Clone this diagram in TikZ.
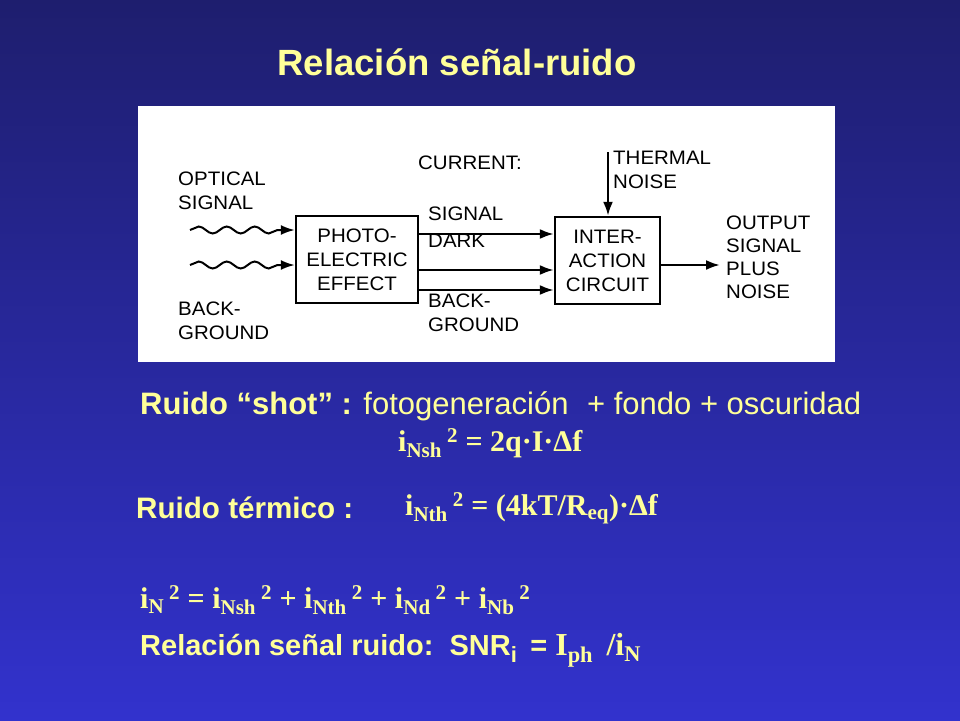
\documentclass[tikz,border=0pt]{standalone}
\usepackage{fontspec}
\setmainfont{Liberation Sans}
\newfontfamily\tms{Liberation Serif}
\usetikzlibrary{decorations.pathmorphing,arrows.meta}
\definecolor{ytxt}{HTML}{FFFF99}
\begin{document}
\begin{tikzpicture}[x=1pt,y=-1pt,
 lbl/.style={anchor=north west,font=\fontsize{19.5}{24}\selectfont,align=left,inner sep=0pt,xscale=1.05},
 blk/.style={draw,line width=2.4pt,minimum width=0,inner sep=0pt},
 arr/.style={line width=2.4pt,-{Latex[length=14pt,width=10pt]}},
 wav/.style={line width=2pt,decorate,decoration={snake,amplitude=3.5pt,segment length=28pt,post length=14pt},-{Latex[length=14pt,width=10pt]}},
 yt/.style={text=ytxt,font=\bfseries\fontsize{29}{34}\selectfont,anchor=west,inner sep=0pt},
 fm/.style={yt,font=\tms\bfseries\fontsize{30}{34}\selectfont}]
\useasboundingbox (0,0) rectangle (960,720);
\shade[top color={rgb,255:red,30;green,30;blue,110},bottom color={rgb,255:red,50;green,50;blue,205}] (0,0) rectangle (960,720);
\node[text=ytxt,font=\bfseries\fontsize{36.5}{40}\selectfont] (title) at (457,62) {Relación señal-ruido};
\fill[white] (138,106) rectangle (835,362);
\node[blk,minimum width=122pt,minimum height=87pt] (pe) at (357,259.5) {};
\node[lbl,align=center,anchor=center] (pet) at (pe) {PHOTO-\\ELECTRIC\\EFFECT};
\node[blk,minimum width=105pt,minimum height=87pt] (ic) at (607.5,260.5) {};
\node[lbl,align=center,anchor=center] (ict) at (ic) {INTER-\\ACTION\\CIRCUIT};
\coordinate (w1) at (190,230); \coordinate (w2) at (190,265);
\draw[wav] (w1) -- (pe.west|-w1);
\draw[wav] (w2) -- (pe.west|-w2);
\coordinate (a1) at (418,234); \coordinate (a2) at (418,270); \coordinate (a3) at (418,290);
\draw[arr] (a1) -- (ic.west|-a1);
\draw[arr] (a2) -- (ic.west|-a2);
\draw[arr] (a3) -- (ic.west|-a3);
\coordinate (th) at (608,152);
\draw[arr] (th) -- (ic.north-|th);
\coordinate (out) at (720,265);
\draw[arr] (ic.east|-out) -- (out);
\node[lbl] (os) at (178,172) {OPTICAL\\SIGNAL};
\node[lbl] (bg) at (178,302) {BACK-\\GROUND};
\node[lbl] (cur) at (418,156) {CURRENT:};
\node[lbl] (tn) at (613,151) {THERMAL\\NOISE};
\node[lbl] (sg) at (428,207) {SIGNAL};
\node[lbl] (dk) at (428,234) {DARK};
\node[lbl] (bg2) at (428,294) {BACK-\\GROUND};
\node[lbl,font=\fontsize{19.5}{23}\selectfont] (out) at (726,216) {OUTPUT\\SIGNAL\\PLUS\\NOISE};
\node[yt,font=\bfseries\fontsize{31}{34}\selectfont] (t1) at (140,406) {Ruido “shot” : \mdseries fotogeneración\hspace{10pt} + fondo + oscuridad};
\node[fm] (f1) at (398,443) {i\textsubscript{Nsh}\,\textsuperscript{2} = 2q·I·Δf};
\node[yt,font=\bfseries\fontsize{29.6}{34}\selectfont] (t2) at (136,508) {Ruido térmico :};
\node[fm] (f2) at (405,508) {i\textsubscript{Nth}\,\textsuperscript{2} = (4kT/R\textsubscript{eq})·Δf};
\node[fm] (f3) at (140,600) {i\textsubscript{N}\,\textsuperscript{2} = i\textsubscript{Nsh}\,\textsuperscript{2} + i\textsubscript{Nth}\,\textsuperscript{2} + i\textsubscript{Nd}\,\textsuperscript{2} + i\textsubscript{Nb}\,\textsuperscript{2}};
\node[yt] (t3) at (140,650) {Relación señal ruido:\ \ SNR\textsubscript{\fontsize{22}{22}\selectfont i}\, = {\tms\fontsize{32}{34}\selectfont I\textsubscript{ph}\, /i\textsubscript{N}}};
\end{tikzpicture}
\end{document}
